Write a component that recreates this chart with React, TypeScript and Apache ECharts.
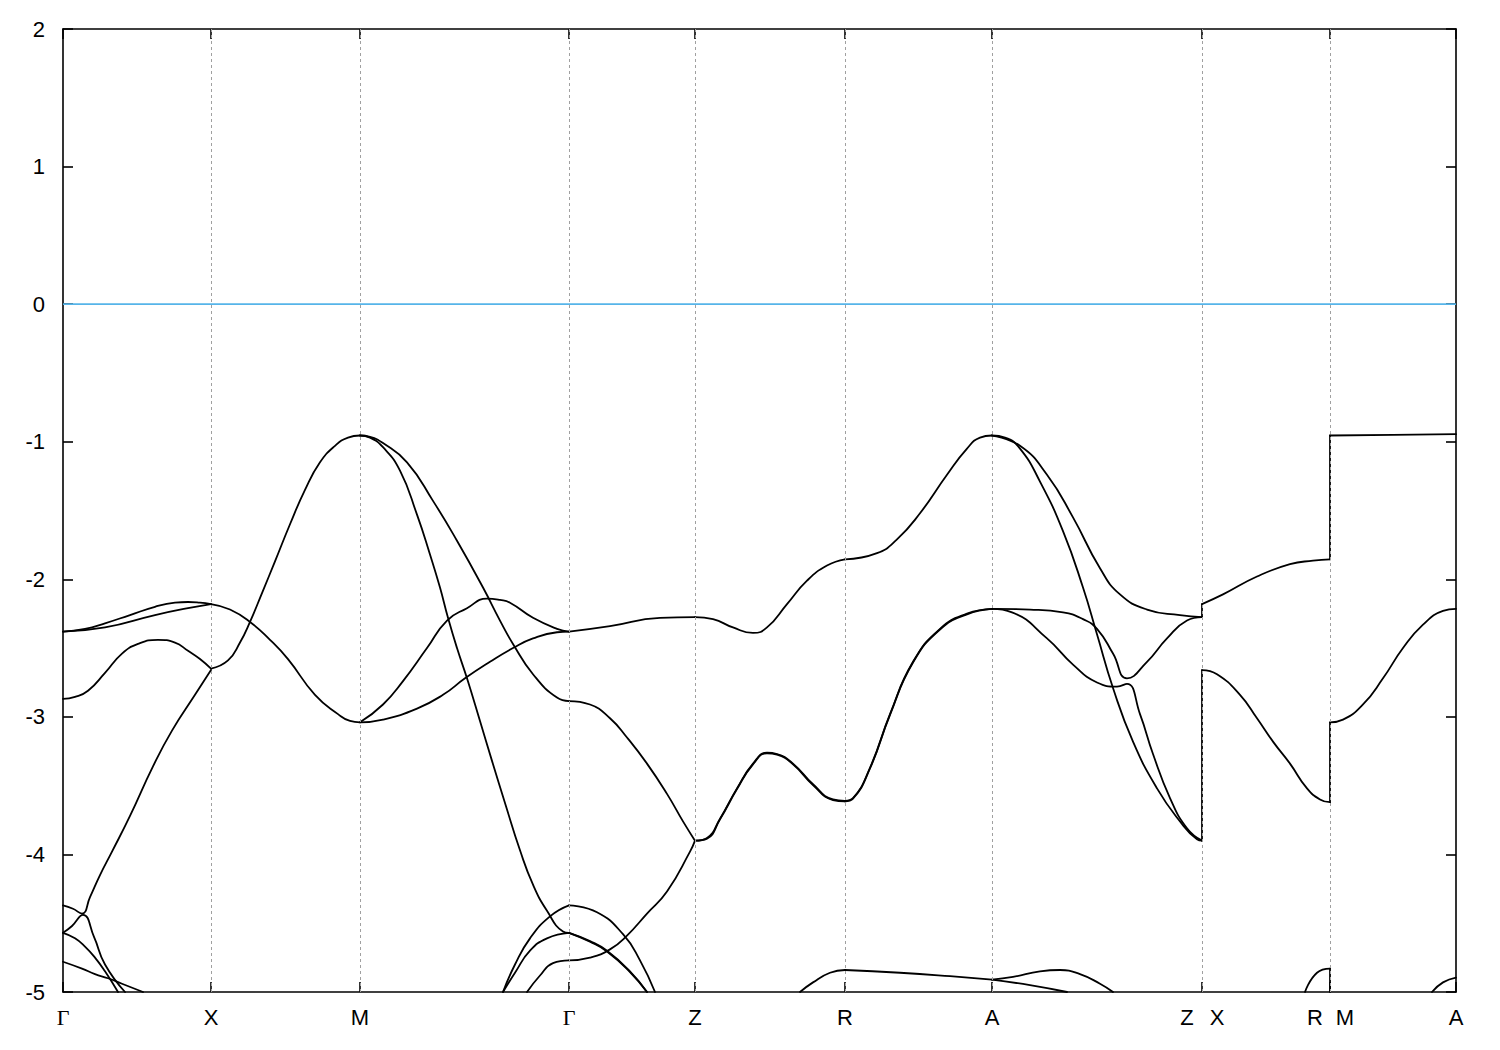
import React, { useEffect, useRef } from "react";
import * as echarts from "echarts";

// High-symmetry k positions and their labels
const KPTS = [0, 1.48, 2.97, 5.06, 6.32, 7.82, 9.29, 11.39, 12.67, 13.93];
const KLABELS: [number, string][] = [
  [0, "Γ"], [1.48, "X"], [2.97, "M"], [5.06, "Γ"], [6.32, "Z"], [7.82, "R"],
  [9.29, "A"], [11.24, "Z"], [11.54, "X"], [12.52, "R"], [12.82, "M"], [13.93, "A"],
];
const FERMI = 0;

// Bands: [k, E(eV)]
const bandA: [number, number][] = [
  [0, -2.38], [0.22, -2.36], [0.42, -2.32], [0.67, -2.26], [0.92, -2.2], [1.12, -2.17], [1.25, -2.165], [1.37, -2.17], [1.48, -2.18],
  [1.67, -2.22], [1.87, -2.31], [2.07, -2.44], [2.25, -2.58], [2.52, -2.84], [2.75, -2.98], [2.87, -3.03], [2.97, -3.04],
  [3.2, -3.02], [3.54, -2.94], [3.8, -2.84], [4.02, -2.72], [4.27, -2.6], [4.5, -2.5], [4.7, -2.43], [4.94, -2.385], [5.06, -2.38],
  [5.47, -2.34], [5.97, -2.28], [6.32, -2.275], [6.5, -2.29], [6.7, -2.35], [6.9, -2.39], [7.04, -2.35], [7.24, -2.18], [7.44, -2.01], [7.64, -1.9], [7.82, -1.855],
  [8.14, -1.81], [8.34, -1.71], [8.57, -1.52], [8.84, -1.24], [9.04, -1.05], [9.17, -0.97], [9.29, -0.955],
  [9.57, -1.03], [9.84, -1.24], [10.1, -1.55], [10.37, -1.92], [10.57, -2.11], [10.84, -2.22], [11.17, -2.26], [11.39, -2.275],
  [11.39, -2.18], [11.6, -2.11], [11.94, -1.98], [12.27, -1.89], [12.5, -1.865], [12.67, -1.855],
  [12.67, -0.955], [13.3, -0.95], [13.93, -0.945],
];
const bandB: [number, number][] = [
  [0, -2.38], [0.42, -2.35], [0.92, -2.26], [1.25, -2.21], [1.48, -2.18],
];
const bandC: [number, number][] = [
  [0, -2.87], [0.12, -2.855], [0.25, -2.81], [0.42, -2.68], [0.59, -2.54], [0.75, -2.47], [0.95, -2.44], [1.12, -2.46], [1.25, -2.52], [1.37, -2.58], [1.48, -2.65],
  [1.65, -2.59], [1.77, -2.46], [1.87, -2.31], [1.99, -2.1], [2.12, -1.87], [2.27, -1.6], [2.42, -1.35], [2.57, -1.15], [2.72, -1.03], [2.85, -0.97], [2.97, -0.955],
  [3.07, -0.965], [3.2, -1.01], [3.44, -1.15], [3.7, -1.43], [3.94, -1.72], [4.2, -2.06], [4.37, -2.3], [4.5, -2.47], [4.7, -2.69], [4.94, -2.86], [5.06, -2.885],
  [5.27, -2.91], [5.47, -3.01], [5.64, -3.15], [5.84, -3.34], [6.04, -3.56], [6.2, -3.76], [6.32, -3.9],
  [6.44, -3.88], [6.57, -3.74], [6.74, -3.52], [6.9, -3.34], [7.04, -3.26], [7.14, -3.27], [7.3, -3.34], [7.5, -3.49], [7.7, -3.6], [7.82, -3.61],
  [7.9, -3.59], [8.07, -3.37], [8.27, -2.98], [8.5, -2.6], [8.77, -2.36], [9.04, -2.25], [9.29, -2.215],
  [9.67, -2.22], [10.0, -2.24], [10.2, -2.29], [10.34, -2.36], [10.5, -2.54], [10.64, -2.72], [10.84, -2.6], [11.04, -2.43], [11.24, -2.3], [11.39, -2.275],
];
const bandD: [number, number][] = [
  [0, -4.37], [0.1, -4.395], [0.19, -4.43], [0.27, -4.31], [0.37, -4.15], [0.49, -3.98], [0.67, -3.72], [0.9, -3.36], [1.09, -3.1], [1.32, -2.84], [1.48, -2.66],
];
const bandE: [number, number][] = [
  [0, -4.57], [0.09, -4.52], [0.2, -4.44], [0.31, -4.6], [0.42, -4.8], [0.62, -5.0],
];
const bandF: [number, number][] = [
  [0, -4.57], [0.12, -4.61], [0.22, -4.67], [0.32, -4.75], [0.42, -4.85], [0.55, -5.0],
];
const bandG: [number, number][] = [
  [0, -4.78], [0.19, -4.83], [0.32, -4.87], [0.45, -4.9], [0.59, -4.94], [0.8, -5.0],
];
const bandH: [number, number][] = [
  [2.97, -0.955], [3.07, -0.97], [3.2, -1.04], [3.37, -1.21], [3.54, -1.53], [3.67, -1.82], [3.77, -2.06], [3.85, -2.28], [3.94, -2.5], [4.04, -2.72],
  [4.17, -3.03], [4.29, -3.32], [4.43, -3.65], [4.57, -3.97], [4.7, -4.22], [4.84, -4.41], [5.0, -4.56], [5.06, -4.57],
  [5.27, -4.63], [5.44, -4.7], [5.67, -4.85], [5.84, -5.0],
];
const bandI: [number, number][] = [
  [2.97, -3.04], [3.2, -2.91], [3.4, -2.74], [3.64, -2.5], [3.84, -2.3], [4.04, -2.21], [4.24, -2.14], [4.37, -2.15], [4.47, -2.17], [4.7, -2.28], [4.94, -2.36], [5.06, -2.38],
];
const bandJ: [number, number][] = [
  [4.4, -5.0], [4.52, -4.8], [4.67, -4.61], [4.87, -4.45], [5.06, -4.37], [5.34, -4.42], [5.6, -4.58], [5.77, -4.77], [5.92, -5.0],
];
const bandK: [number, number][] = [
  [4.4, -5.0], [4.52, -4.86], [4.67, -4.7], [4.84, -4.61], [5.06, -4.57], [5.27, -4.635], [5.44, -4.705], [5.67, -4.855], [5.84, -5.0],
];
const bandL: [number, number][] = [
  [4.64, -5.0], [4.77, -4.88], [4.9, -4.79], [5.06, -4.77], [5.27, -4.75], [5.47, -4.69], [5.64, -4.59], [5.84, -4.43], [6.04, -4.27], [6.27, -3.98], [6.32, -3.9],
  [6.44, -3.885], [6.57, -3.745], [6.74, -3.525], [6.9, -3.345], [7.04, -3.265], [7.14, -3.275], [7.3, -3.345], [7.5, -3.495], [7.7, -3.605], [7.82, -3.615],
  [7.9, -3.595], [8.07, -3.375], [8.27, -2.985], [8.5, -2.605], [8.77, -2.365], [9.04, -2.255], [9.29, -2.215],
  [9.49, -2.24], [9.84, -2.43], [10.1, -2.62], [10.34, -2.75], [10.54, -2.78], [10.64, -2.76], [10.77, -2.98], [10.9, -3.27], [11.07, -3.59], [11.24, -3.81], [11.39, -3.9],
  [11.39, -2.66], [11.54, -2.69], [11.77, -2.84], [11.94, -3.01], [12.1, -3.18], [12.27, -3.34], [12.44, -3.52], [12.57, -3.6], [12.67, -3.62],
  [12.67, -3.04], [12.8, -3.02], [13.0, -2.91], [13.2, -2.72], [13.4, -2.5], [13.6, -2.33], [13.8, -2.23], [13.93, -2.215],
];
const bandM: [number, number][] = [
  [9.29, -0.955], [9.42, -0.97], [9.57, -1.05], [9.77, -1.29], [10.0, -1.65], [10.2, -2.06], [10.34, -2.4], [10.5, -2.79], [10.7, -3.18], [10.94, -3.52], [11.17, -3.76], [11.34, -3.89], [11.39, -3.9],
];
const bandN: [number, number][] = [
  [7.37, -5.0], [7.5, -4.93], [7.67, -4.86], [7.82, -4.84], [8.37, -4.86], [8.87, -4.885], [9.29, -4.91], [9.67, -4.95], [10.04, -5.0],
];
const bandO: [number, number][] = [
  [9.29, -4.91], [9.5, -4.89], [9.77, -4.85], [9.97, -4.84], [10.17, -4.87], [10.37, -4.94], [10.5, -5.0],
];
const bandP: [number, number][] = [
  [12.42, -5.0], [12.54, -4.86], [12.67, -4.83], [12.67, -5.0],
];
const bandQ: [number, number][] = [
  [13.69, -5.0], [13.8, -4.93], [13.93, -4.895],
];

const BANDS = [bandA, bandB, bandC, bandD, bandE, bandF, bandG, bandH, bandI, bandJ, bandK, bandL, bandM, bandN, bandO, bandP, bandQ];

const isK = (k: number) => KPTS.some((p) => Math.abs(p - k) < 1e-6);

function splitBand(band: [number, number][]) {
  const segs: [number, number][][] = [];
  let cur: [number, number][] = [];
  band.forEach((p, i) => {
    cur.push(p);
    if (cur.length > 1 && isK(p[0]) && i < band.length - 1) {
      segs.push(cur);
      cur = [p];
    }
  });
  if (cur.length > 1) segs.push(cur);
  return segs;
}

const FONT = "'Liberation Sans Narrow', 'Arial Narrow', 'Liberation Sans', Arial, sans-serif";

export default function App() {
  const ref = useRef<HTMLDivElement>(null);
  useEffect(() => {
    if (!ref.current) return;
    const chart = echarts.init(ref.current, undefined, { renderer: "svg" });
    const labelMap = new Map(KLABELS.map(([k, t]) => [k.toFixed(2), t]));
    const series: any[] = [];
    series.push({
      type: "line",
      data: [[KPTS[0], FERMI], [KPTS[KPTS.length - 1], FERMI]],
      showSymbol: false,
      silent: true,
      z: 2,
      lineStyle: { color: "#56B4E9", width: 1.6 },
      markLine: {
        silent: true,
        symbol: "none",
        label: { show: false },
        lineStyle: { color: "#a0a0a0", width: 1, type: [3, 3] },
        data: KPTS.slice(1, -1).map((k) => ({ xAxis: k })),
      },
    });
    BANDS.forEach((b) => {
      splitBand(b).forEach((seg) => {
        series.push({
          type: "line",
          data: seg,
          showSymbol: false,
          silent: true,
          smooth: 0.5,
          z: 3,
          lineStyle: { color: "#000", width: 1.8, join: "round", cap: "round" },
        });
      });
    });
    chart.setOption({
      animation: false,
      backgroundColor: "#fff",
      grid: { left: 63, right: 44, top: 29, bottom: 58, containLabel: false },
      xAxis: [
        {
          type: "value",
          min: KPTS[0],
          max: KPTS[KPTS.length - 1],
          position: "bottom",
          axisLine: { show: true, onZero: false, lineStyle: { color: "#000", width: 1.6 } },
          axisTick: { show: true, inside: true, length: 10, customValues: KPTS, lineStyle: { color: "#000", width: 1.6 } },
          axisLabel: {
            show: true,
            margin: 14,
            customValues: KLABELS.map((l) => l[0]),
            fontFamily: FONT,
            fontSize: 22,
            color: "#000",
            formatter: (v: number) => {
              const t = labelMap.get(v.toFixed(2)) || "";
              return t === "Γ" ? "{g|Γ}" : t;
            },
            rich: { g: { fontFamily: "'Liberation Serif', 'DejaVu Serif', serif", fontSize: 22, color: "#000" } },
          },
          splitLine: { show: false },
        },
        {
          type: "value",
          min: KPTS[0],
          max: KPTS[KPTS.length - 1],
          position: "top",
          axisLine: { show: true, onZero: false, lineStyle: { color: "#000", width: 1.6 } },
          axisTick: { show: true, inside: true, length: 10, customValues: KPTS, lineStyle: { color: "#000", width: 1.6 } },
          axisLabel: { show: false },
          splitLine: { show: false },
        },
      ],
      yAxis: [
        {
          type: "value",
          min: -5,
          max: 2,
          interval: 1,
          position: "left",
          axisLine: { show: true, onZero: false, lineStyle: { color: "#000", width: 1.6 } },
          axisTick: { show: true, inside: true, length: 10, lineStyle: { color: "#000", width: 1.6 } },
          axisLabel: { show: true, margin: 18, fontFamily: FONT, fontSize: 22, color: "#000" },
          splitLine: { show: false },
        },
        {
          type: "value",
          min: -5,
          max: 2,
          interval: 1,
          position: "right",
          axisLine: { show: true, onZero: false, lineStyle: { color: "#000", width: 1.6 } },
          axisTick: { show: true, inside: true, length: 10, lineStyle: { color: "#000", width: 1.6 } },
          axisLabel: { show: false },
          splitLine: { show: false },
        },
      ],
      series,
    });
    return () => chart.dispose();
  }, []);
  return (
    <div
      ref={ref}
      style={{ position: "fixed", left: 0, top: 0, width: 1500, height: 1050, background: "#fff" }}
    />
  );
}
